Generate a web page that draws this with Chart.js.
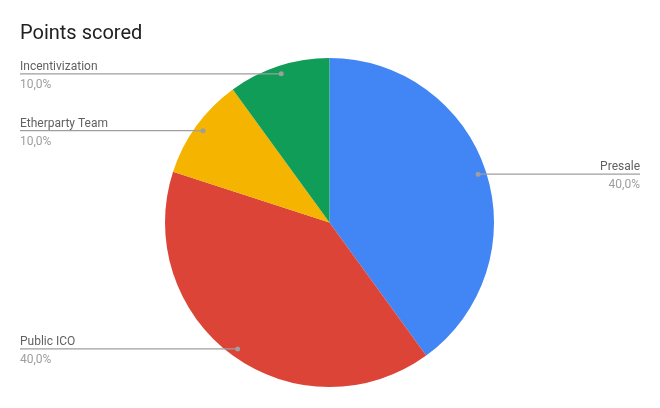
<!DOCTYPE html>
<html>
<head>
<meta charset="utf-8">
<script src="https://cdn.jsdelivr.net/npm/chart.js@4/dist/chart.umd.min.js"></script>
<style>
  html, body { margin: 0; padding: 0; background: #fff; }
  #wrap { width: 660px; height: 408px; }
</style>
</head>
<body>
<div id="wrap"><canvas id="pieChart" width="660" height="408"></canvas></div>
<script>
const TITLE = "Points scored";
const labels = ["Presale", "Public ICO", "Etherparty Team", "Incentivization"];
const values = [40, 40, 10, 10];
const colors = ["#4285F4", "#DB4437", "#F4B400", "#0F9D58"];

// leader lines + labels, drawn from the arc elements
const calloutPlugin = {
    id: 'callouts',
    afterDraw(chart) {
        const ctx = chart.ctx;
        const meta = chart.getDatasetMeta(0);
        const total = values.reduce((a, b) => a + b, 0);
        ctx.save();
        // title
        ctx.font = '20px Roboto';
        ctx.fillStyle = '#212121';
        ctx.textBaseline = 'alphabetic';
        ctx.textAlign = 'left';
        ctx.fillText(TITLE, 20, 39);

        meta.data.forEach((arc, i) => {
            const p = arc.getProps(['x', 'y', 'startAngle', 'endAngle', 'outerRadius'], true);
            const mid = (p.startAngle + p.endAngle) / 2;
            const dx = p.x + Math.cos(mid) * p.outerRadius * 0.95;
            const dy = p.y + Math.sin(mid) * p.outerRadius * 0.95;
            const right = Math.cos(mid) > 0;
            const endX = right ? 640 : 20;

            ctx.strokeStyle = '#9e9e9e';
            ctx.lineWidth = 1.2;
            ctx.beginPath();
            ctx.moveTo(dx, dy);
            ctx.lineTo(endX, dy);
            ctx.stroke();

            ctx.fillStyle = '#9e9e9e';
            ctx.beginPath();
            ctx.arc(dx, dy, 2.5, 0, Math.PI * 2);
            ctx.fill();

            ctx.textAlign = right ? 'right' : 'left';
            ctx.font = '12px Roboto';
            ctx.fillStyle = '#616161';
            ctx.fillText(labels[i], endX, dy - 4);
            ctx.fillStyle = '#9e9e9e';
            const pct = (values[i] / total * 100).toFixed(1).replace('.', ',') + '%';
            ctx.fillText(pct, endX, dy + 14);
        });
        ctx.restore();
    }
};

new Chart(document.getElementById('pieChart'), {
    type: 'pie',
    data: {
        labels: labels,
        datasets: [{
            data: values,
            backgroundColor: colors,
            borderWidth: 0
        }]
    },
    options: {
        responsive: false,
        animation: false,
        layout: { padding: { top: 58, bottom: 21, left: 165, right: 166 } },
        plugins: {
            legend: { display: false },
            tooltip: { enabled: false },
            title: { display: false }
        }
    },
    plugins: [calloutPlugin]
});
</script>
</body>
</html>
